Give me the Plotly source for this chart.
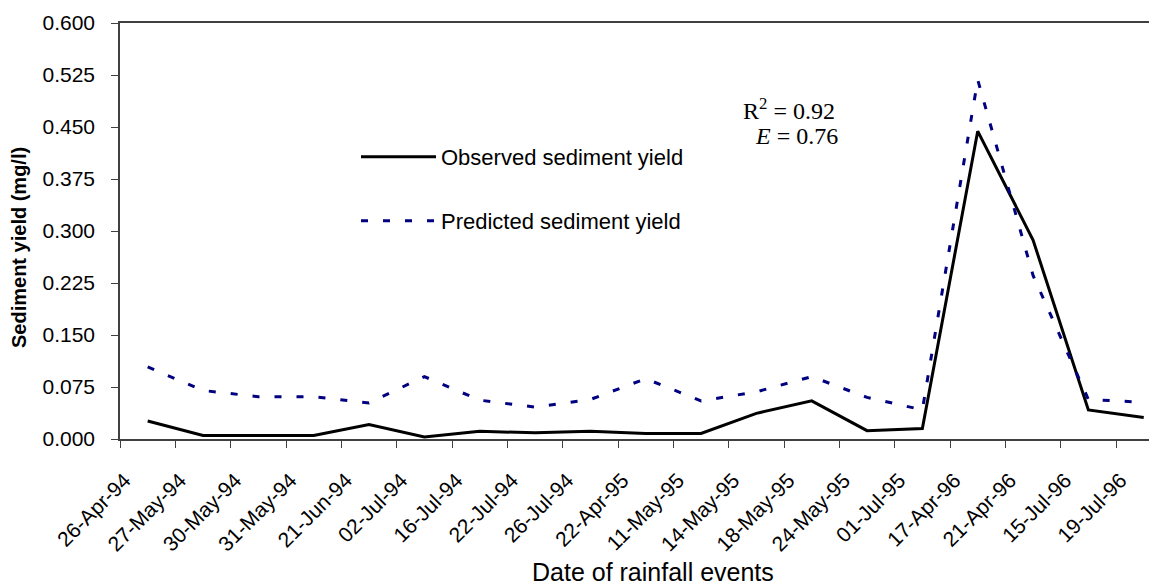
import plotly.graph_objects as go

dates = ["26-Apr-94", "27-May-94", "30-May-94", "31-May-94", "21-Jun-94", "02-Jul-94",
         "16-Jul-94", "22-Jul-94", "26-Jul-94", "22-Apr-95", "11-May-95", "14-May-95",
         "18-May-95", "24-May-95", "01-Jul-95", "17-Apr-96", "21-Apr-96", "15-Jul-96",
         "19-Jul-96"]
observed = [0.026, 0.005, 0.005, 0.005, 0.021, 0.003, 0.011, 0.009, 0.011, 0.008,
            0.008, 0.037, 0.055, 0.012, 0.015, 0.444, 0.287, 0.042, 0.031]
predicted = [0.104, 0.070, 0.061, 0.061, 0.052, 0.090, 0.056, 0.046, 0.057, 0.087,
             0.055, 0.068, 0.090, 0.060, 0.042, 0.518, 0.236, 0.057, 0.053]
yticks = [0.0, 0.075, 0.15, 0.225, 0.3, 0.375, 0.45, 0.525, 0.6]

SANS = "Liberation Sans, Arial, sans-serif"
SERIF = "Liberation Serif, Times New Roman, serif"

# page has an 8px body margin; work in screen pixels and convert
OFF = 8
W, H = 1157 - OFF, 587 - OFF
PL, PT, PB = 120, 23, 439          # plot edges in screen pixels
L, T = PL - OFF, PT - OFF
B = H - (PB - OFF)


def sx(px):
    return (px - PL) / (W - L)


def sy(py):
    return (PB - py) / (PB - PT)


fig = go.Figure()
fig.add_trace(go.Scatter(x=dates, y=observed, mode="lines", name="Observed sediment yield",
                         line=dict(color="#000000", width=3), legend="legend"))
fig.add_trace(go.Scatter(x=dates, y=predicted, mode="lines", name="Predicted sediment yield",
                         line=dict(color="#000080", width=3, dash="7px,15px"), legend="legend2"))

fig.update_layout(
    width=W, height=H,
    margin=dict(l=L, r=0, t=T, b=B, autoexpand=False),
    paper_bgcolor="white", plot_bgcolor="white",
    font=dict(family=SANS, color="#000000"),
    xaxis=dict(
        type="category", range=[-0.5, 18.24], tickson="boundaries",
        ticks="outside", ticklen=7, tickcolor="#404040", tickwidth=1,
        showline=True, linecolor="#404040", linewidth=1.5, mirror=True,
        showgrid=False, zeroline=False, tickangle=-45,
        ticklabelshift=-23, ticklabelstandoff=19,
        tickfont=dict(family=SANS, size=21, color="#000000"),
        automargin=False,
    ),
    yaxis=dict(
        range=[0, 0.6], tickvals=yticks, tickformat=".3f",
        ticks="outside", ticklen=7, tickcolor="#404040", tickwidth=1,
        showline=True, linecolor="#404040", linewidth=1.5,
        showgrid=False, zeroline=False, ticklabelstandoff=12,
        tickfont=dict(family=SANS, size=21, color="#000000"),
        automargin=False,
    ),
    legend=dict(x=sx(356), y=sy(157), xanchor="left", yanchor="middle",
                bgcolor="rgba(0,0,0,0)", borderwidth=0, itemwidth=75,
                font=dict(family=SANS, size=22, color="#000000")),
    legend2=dict(x=sx(356), y=sy(221), xanchor="left", yanchor="middle",
                 bgcolor="rgba(0,0,0,0)", borderwidth=0, itemwidth=75,
                 font=dict(family=SANS, size=22, color="#000000")),
    showlegend=True,
)

fig.add_annotation(x=sx(653), y=sy(572), xref="paper", yref="paper",
                   text="Date of rainfall events", showarrow=False,
                   xanchor="center", yanchor="middle",
                   font=dict(family=SANS, size=25, color="#000000"))
fig.add_annotation(x=sx(19), y=sy(248), xref="paper", yref="paper",
                   text="<b>Sediment yield (mg/l)</b>", showarrow=False, textangle=-90,
                   xanchor="center", yanchor="middle",
                   font=dict(family=SANS, size=20, color="#000000"))
fig.add_annotation(x=sx(837), y=sy(109), xref="paper", yref="paper",
                   text="R<sup>2</sup> = 0.92", showarrow=False, xanchor="right", yanchor="middle",
                   font=dict(family=SERIF, size=24, color="#000000"))
fig.add_annotation(x=sx(840), y=sy(136), xref="paper", yref="paper",
                   text="<i>E</i> = 0.76", showarrow=False, xanchor="right", yanchor="middle",
                   font=dict(family=SERIF, size=24, color="#000000"))

fig.write_html("out.html")
